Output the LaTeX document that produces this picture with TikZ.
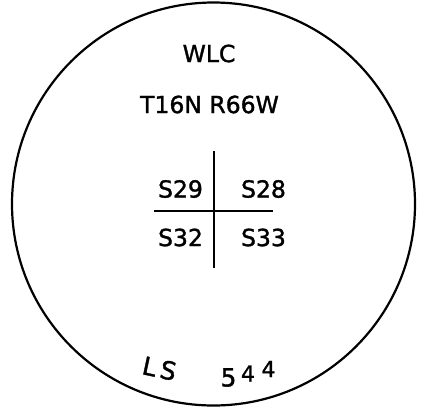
\documentclass[tikz,border=0pt]{standalone}
\usepackage{fontspec}
\setmainfont{DejaVu Sans}[FakeBold=1.4]
\usetikzlibrary{positioning}
\definecolor{ink}{HTML}{000000}

\begin{document}
\begin{tikzpicture}[
  x=1pt,y=-1pt,
  label/.style={font=\fontsize{23.5}{26}\selectfont,text=ink,inner sep=0pt},
  hand/.style={font=\fontsize{25}{26}\selectfont,text=ink,inner sep=0pt},
  rule/.style={draw=ink,line width=2.2pt}
]
\useasboundingbox (0,0) rectangle (422,408);
\fill[white] (0,0) rectangle (422,408);

% outer circle
\draw[rule] (213.5,204) circle (201.5);

% heading
\node[label] (wlc) at (209,53.5) {WLC};
\node[label] (twp) at (209.5,104.5) {T16N R66W};

% section cross
\coordinate (vtop) at (214,151);
\coordinate (vbot) at (214,268);
\coordinate (hleft) at (154,211);
\coordinate (hright) at (273,211);
\draw[rule] (vtop) -- (vbot);
\draw[rule] (hleft) -- (hright);

\node[label] (s29) at (180.5,189) {S29};
\node[label] (s28) at (263.5,189) {S28};
\node[label] (s32) at (180.5,237.5) {S32};
\node[label] (s33) at (263.5,237.5) {S33};

% handwritten note
\node[hand,rotate=-12] (ls) at (159.5,368.5) {L\,S};
\node[hand] (five) at (228.5,377.5) {5};
\node[hand,font=\fontsize{22}{22}\selectfont] (four) at (248,373.5) {4};
\node[hand,font=\fontsize{22}{22}\selectfont] (sup) at (268.5,369) {4};
\end{tikzpicture}
\end{document}
